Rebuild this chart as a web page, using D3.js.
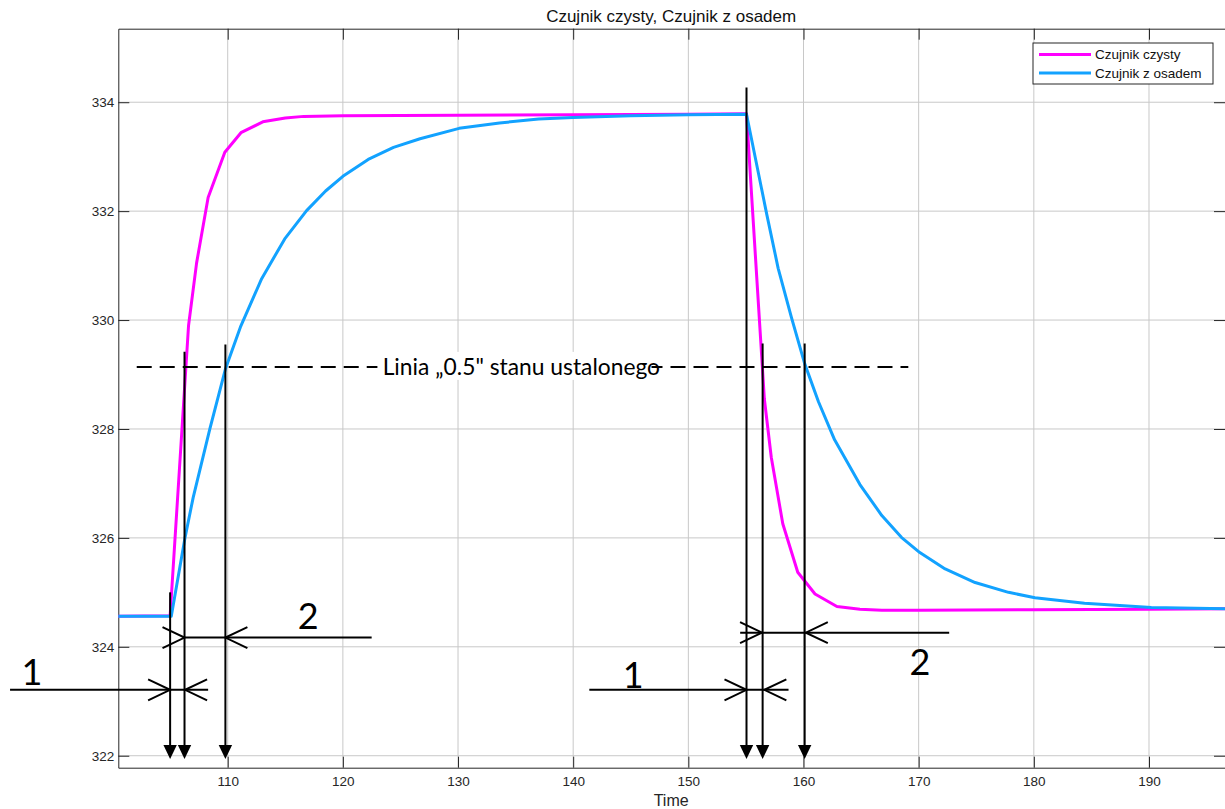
<!DOCTYPE html>
<html>
<head>
<meta charset="utf-8">
<script src="https://cdn.jsdelivr.net/npm/d3@7"></script>
<style>
  body { margin: 0; background: #fff; }
  svg { display: block; }
</style>
</head>
<body>
<svg id="chart" width="1225" height="809"></svg>
<script>
// dane
const timeClean = [100, 105.0, 106.6, 107.3, 108.3, 109.75, 111.15, 113.05, 115.0, 116.6, 120, 130, 140, 150, 155.05,
  156.6, 157.2, 158.2, 159.5, 161.0, 162.9, 164.9, 166.8, 170, 180, 190, 196.6];
const valClean = [324.56, 324.57, 329.9, 331.05, 332.25, 333.08, 333.44, 333.64, 333.71, 333.74, 333.75, 333.76, 333.77, 333.78, 333.79,
  328.55, 327.48, 326.26, 325.37, 324.97, 324.74, 324.69, 324.67, 324.67, 324.68, 324.69, 324.70];

const timeDirty = [100, 105.1, 106.3, 107.0, 108.45, 109.8, 111.1, 112.95, 114.95, 116.85, 118.5, 120.0, 122.2, 124.4, 126.7, 130.1,
  133.6, 137.0, 140.0, 145.0, 150.0, 155.05, 156.8, 157.8, 158.95, 160.1, 161.3, 162.7, 164.9, 166.8, 168.5, 170.1, 172.3,
  174.9, 177.8, 180.1, 184.4, 190.2, 196.6];
const valDirty = [324.56, 324.56, 326.01, 326.74, 328.0, 329.1, 329.87, 330.76, 331.49, 332.01, 332.37, 332.64, 332.95, 333.17, 333.33, 333.52,
  333.62, 333.69, 333.72, 333.75, 333.77, 333.78, 331.95, 330.95, 330.05, 329.2, 328.5, 327.8, 326.98, 326.41, 326.01, 325.73, 325.43,
  325.18, 325.0, 324.9, 324.8, 324.72, 324.70];

const seriesNames = ["Czujnik czysty", "Czujnik z osadem"];
const seriesColors = ["#ff00ff", "#12a2ff"];

const xTicks = [110, 120, 130, 140, 150, 160, 170, 180, 190];
const yTicks = [322, 324, 326, 328, 330, 332, 334];

// adnotacje (w jednostkach danych)
const halfLevel = 329.14;
const halfLineLeft = [102.1, 123.0];
const halfLineRight = [146.8, 169.1];
const halfLabel = "Linia \u201E0.5\" stanu ustalonego";
const halfLabelX = 135.5;

const markerTimes = [105.0, 106.25, 109.8, 155.05, 156.45, 160.1];
const markerTops = [325.0, 329.42, 329.55, 334.27, 329.57, 329.57];
const markerBottom = 321.94;

// [y, start, koniec, grot w prawo, grot w lewo]
const dimLines = [
  [324.17, 106.25, 122.5, 106.25, 109.8],
  [323.21, 91.1, 108.3, 105.0, 106.3],
  [323.21, 141.4, 158.7, 155.05, 156.6],
  [324.26, 154.5, 172.65, 156.4, 160.2]
];
const dimLabels = ["1", "2", "1", "2"];
const dimLabelX = [93.0, 117.0, 145.2, 170.1];
const dimLabelY = [323.54, 324.56, 323.48, 323.72];

const svg = d3.select("#chart");
const pLeft = 118.3, pTop = 28.7, pRight = 1225, pBottom = 767.7;
const font = "'Liberation Sans', Arial, sans-serif";

const x = d3.scaleLinear().domain([100.5, 196.6]).range([pLeft, pRight]);
const y = d3.scaleLinear().domain([321.78, 335.35]).range([pBottom, pTop]);

svg.append("defs").append("clipPath").attr("id", "plot-clip")
  .append("rect").attr("x", pLeft).attr("y", pTop).attr("width", pRight - pLeft).attr("height", pBottom - pTop);

// siatka
const grid = svg.append("g").attr("stroke", "#c8c8c8").attr("stroke-width", 1);
grid.selectAll(".gx").data(xTicks).join("line")
  .attr("x1", d => x(d)).attr("x2", d => x(d)).attr("y1", pTop).attr("y2", pBottom);
grid.selectAll(".gy").data(yTicks).join("line")
  .attr("x1", pLeft).attr("x2", pRight).attr("y1", d => y(d)).attr("y2", d => y(d));

// osie
function styleAxis(g) {
  g.selectAll("path").attr("stroke", "#262626");
  g.selectAll("line").attr("stroke", "#262626");
  g.selectAll("text").attr("fill", "#262626").style("font-family", font).style("font-size", "13.5px");
}
svg.append("g").attr("transform", `translate(0,${pBottom})`)
  .call(d3.axisBottom(x).tickValues(xTicks).tickSizeInner(-11).tickSizeOuter(0).tickPadding(9))
  .call(styleAxis);
svg.append("g").attr("transform", `translate(0,${pTop})`)
  .call(d3.axisTop(x).tickValues(xTicks).tickSizeInner(-11).tickSizeOuter(0).tickFormat(""))
  .call(styleAxis);
svg.append("g").attr("transform", `translate(${pLeft},0)`)
  .call(d3.axisLeft(y).tickValues(yTicks).tickSizeInner(-11).tickSizeOuter(0).tickPadding(4))
  .call(styleAxis);
svg.append("g").attr("transform", `translate(${pRight},0)`)
  .call(d3.axisRight(y).tickValues(yTicks).tickSizeInner(-11).tickSizeOuter(0).tickFormat(""))
  .call(styleAxis);

// serie
const series = [
  { name: seriesNames[0], color: seriesColors[0], pts: timeClean.map((t, i) => [t, valClean[i]]) },
  { name: seriesNames[1], color: seriesColors[1], pts: timeDirty.map((t, i) => [t, valDirty[i]]) }
];
const plot = svg.append("g").attr("clip-path", "url(#plot-clip)");
series.forEach(s => {
  plot.append("path")
    .attr("d", d3.line().x(d => x(d[0])).y(d => y(d[1])).curve(d3.curveLinear)(s.pts))
    .attr("fill", "none")
    .attr("stroke", s.color)
    .attr("stroke-width", 3)
    .attr("stroke-linejoin", "round");
});

// tytul i opis osi
svg.append("text").attr("x", (pLeft + pRight - 1) / 2).attr("y", 22)
  .attr("text-anchor", "middle").attr("fill", "#111")
  .style("font-family", font).style("font-size", "17px")
  .text(seriesNames.join(", "));
svg.append("text").attr("x", (pLeft + pRight - 1) / 2).attr("y", 806)
  .attr("text-anchor", "middle").attr("fill", "#262626")
  .style("font-family", font).style("font-size", "16px")
  .text("Time");

// legenda
const legend = svg.append("g").attr("transform", "translate(1033,43)");
legend.append("rect").attr("width", 180).attr("height", 41)
  .attr("fill", "#fff").attr("stroke", "#262626").attr("stroke-width", 1);
series.forEach((s, i) => {
  legend.append("line").attr("x1", 6).attr("x2", 58).attr("y1", 11.5 + i * 18.5).attr("y2", 11.5 + i * 18.5)
    .attr("stroke", s.color).attr("stroke-width", 3);
  legend.append("text").attr("x", 62).attr("y", 16 + i * 18.5).attr("fill", "#111")
    .style("font-family", font).style("font-size", "13.5px")
    .text(s.name);
});

// linia 0.5 z opisem na bialym tle
const labelBg = svg.append("rect").attr("fill", "#fff");
const lbl = svg.append("text").attr("x", x(halfLabelX)).attr("y", y(halfLevel) + 8)
  .attr("text-anchor", "middle").attr("fill", "#000")
  .style("font-family", "Lato, 'Open Sans', sans-serif").style("font-size", "22.8px")
  .text(halfLabel);
const bb = lbl.node().getBBox();
labelBg.attr("x", bb.x - 5).attr("y", bb.y).attr("width", bb.width + 5).attr("height", bb.height);

const ann = svg.append("g").attr("stroke", "#000").attr("stroke-width", 2).attr("fill", "none");
ann.append("line").attr("x1", x(halfLineLeft[0])).attr("x2", x(halfLineLeft[1]))
  .attr("y1", y(halfLevel)).attr("y2", y(halfLevel)).attr("stroke-dasharray", "15,8");
ann.append("line").attr("x1", x(halfLineRight[0])).attr("x2", x(halfLineRight[1]))
  .attr("y1", y(halfLevel)).attr("y2", y(halfLevel)).attr("stroke-dasharray", "15,8").attr("stroke-dashoffset", 4);

// pionowe znaczniki ze strzalkami
markerTimes.forEach((t, i) => {
  const mx = x(t);
  ann.append("line").attr("x1", mx).attr("x2", mx).attr("y1", y(markerTops[i])).attr("y2", y(markerBottom) - 10);
  svg.append("path")
    .attr("d", `M${mx - 6.7},${y(markerBottom) - 14} L${mx + 6.7},${y(markerBottom) - 14} L${mx},${y(markerBottom)} Z`)
    .attr("fill", "#000");
});

// linie wymiarowe
const chevron = (tx, ty, dir) =>
  `M${tx - dir * 22},${ty - 10.5} L${tx},${ty} L${tx - dir * 22},${ty + 10.5}`;
dimLines.forEach(d => {
  const ly = y(d[0]);
  ann.append("line").attr("x1", x(d[1])).attr("x2", x(d[2])).attr("y1", ly).attr("y2", ly);
  ann.append("path").attr("d", chevron(x(d[3]), ly, 1));
  ann.append("path").attr("d", chevron(x(d[4]), ly, -1));
});
dimLabels.forEach((s, i) => {
  svg.append("text").attr("x", x(dimLabelX[i])).attr("y", y(dimLabelY[i]) + 13)
    .attr("text-anchor", "middle").attr("fill", "#000")
    .style("font-family", "Lato, 'Open Sans', sans-serif").style("font-size", "36px")
    .text(s);
});
</script>
</body>
</html>
